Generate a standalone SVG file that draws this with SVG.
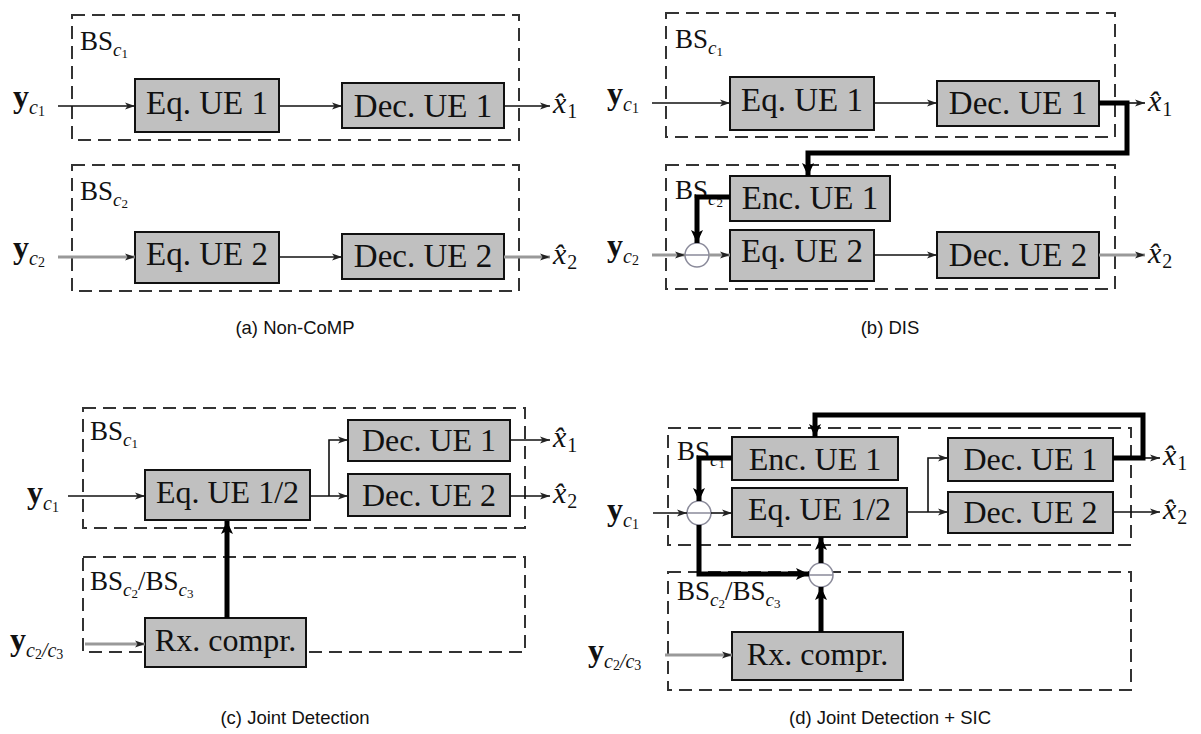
<svg xmlns="http://www.w3.org/2000/svg" width="1201" height="734" viewBox="0 0 1201 734">
<defs>
<style>
.bs{fill:none;stroke:#333;stroke-width:2;stroke-dasharray:13 7}
.bx{fill:#c0c0c0;stroke:#111;stroke-width:2}
.t{font-family:"Liberation Serif","Times New Roman",serif;font-size:33px;fill:#111;text-anchor:middle}
.t2{font-family:"Liberation Serif","Times New Roman",serif;font-size:32px;fill:#111;text-anchor:middle}
.m{font-family:"Liberation Serif","Times New Roman",serif;font-size:27px;fill:#111}
.y{font-family:"Liberation Serif","Times New Roman",serif;font-size:32px;font-weight:bold;fill:#111}
.xh{font-family:"Liberation Serif","Times New Roman",serif;font-size:30px;font-style:italic;fill:#111}
.it{font-style:italic;font-weight:normal}
.sb{font-style:normal;font-size:20px}
.cap{font-family:"Liberation Sans",Arial,sans-serif;font-size:18.5px;fill:#111;text-anchor:middle}
.ln{fill:none;stroke:#111;stroke-width:1.6}
.gl{fill:none;stroke:#999;stroke-width:3}
.tk{fill:none;stroke:#000;stroke-width:5;stroke-linejoin:miter}
.sub{fill:#fff;stroke:#8a8a9a;stroke-width:1.5}
</style>
<marker id="a" markerUnits="userSpaceOnUse" markerWidth="11" markerHeight="8" refX="10" refY="4" orient="auto"><path d="M0,0.5 L10,4 L0,7.5 L2.5,4z" fill="#222"/></marker>
<marker id="k" markerUnits="userSpaceOnUse" markerWidth="14" markerHeight="14" refX="13" refY="7" orient="auto"><path d="M0,1 L13,7 L0,13 L3,7z" fill="#000"/></marker>
</defs>
<rect width="1201" height="734" fill="#fff"/>

<!-- Panel (a) -->
<g id="a-bs1"><rect class="bs" x="72" y="15" width="447" height="125"/>
<text class="m" x="80" y="50">BS<tspan class="it" font-size="19" dy="6">c</tspan><tspan font-size="13" dy="2">1</tspan></text></g>
<g id="a-bs2"><rect class="bs" x="72" y="165" width="447" height="126"/>
<text class="m" x="80" y="200">BS<tspan class="it" font-size="19" dy="6">c</tspan><tspan font-size="13" dy="2">2</tspan></text></g>
<g id="a-eq1"><rect class="bx" x="135" y="79" width="144" height="53"/><text class="t" x="207" y="114">Eq. UE 1</text></g>
<g id="a-dec1"><rect class="bx" x="342" y="83" width="162" height="45"/><text class="t" x="423" y="117">Dec. UE 1</text></g>
<g id="a-eq2"><rect class="bx" x="135" y="232" width="144" height="51"/><text class="t" x="207" y="265">Eq. UE 2</text></g>
<g id="a-dec2"><rect class="bx" x="342" y="234" width="162" height="45"/><text class="t" x="423" y="267">Dec. UE 2</text></g>
<g id="a-labels">
<text class="y" x="13" y="107">y<tspan class="it" font-size="20" dy="7">c</tspan><tspan font-size="14" font-weight="normal" dy="2">1</tspan></text>
<text class="y" x="13" y="258">y<tspan class="it" font-size="20" dy="7">c</tspan><tspan font-size="14" font-weight="normal" dy="2">2</tspan></text>
<text class="xh" x="553" y="113">x̂<tspan class="sb" dx="1" dy="5">1</tspan></text>
<text class="xh" x="553" y="264">x̂<tspan class="sb" dx="1" dy="5">2</tspan></text>
<text class="cap" x="295" y="334">(a) Non-CoMP</text>
</g>
<g id="a-conn">
<line class="ln" x1="58" y1="106" x2="135" y2="106" marker-end="url(#a)"/>
<line class="ln" x1="279" y1="106" x2="342" y2="106" marker-end="url(#a)"/>
<line class="ln" x1="504" y1="106" x2="550" y2="106" marker-end="url(#a)"/>
<line class="gl" x1="58" y1="257" x2="135" y2="257" marker-end="url(#a)"/>
<line class="ln" x1="279" y1="257" x2="342" y2="257" marker-end="url(#a)"/>
<line class="gl" x1="504" y1="257" x2="550" y2="257" marker-end="url(#a)"/>
</g>

<!-- Panel (b) -->
<g id="b-bs1"><rect class="bs" x="666" y="13" width="449" height="124"/>
<text class="m" x="675" y="48">BS<tspan class="it" font-size="19" dy="6">c</tspan><tspan font-size="13" dy="2">1</tspan></text></g>
<g id="b-bs2"><rect class="bs" x="666" y="165" width="449" height="124"/>
<text class="m" x="675" y="199">BS<tspan class="it" font-size="19" dy="6">c</tspan><tspan font-size="13" dy="2">2</tspan></text></g>
<g id="b-eq1"><rect class="bx" x="730" y="77" width="144" height="53"/><text class="t" x="802" y="111">Eq. UE 1</text></g>
<g id="b-dec1"><rect class="bx" x="937" y="81" width="162" height="45"/><text class="t" x="1018" y="114">Dec. UE 1</text></g>
<g id="b-enc1"><rect class="bx" x="730" y="176" width="160" height="45"/><text class="t" x="810" y="209">Enc. UE 1</text></g>
<g id="b-eq2"><rect class="bx" x="730" y="230" width="144" height="51"/><text class="t" x="802" y="262">Eq. UE 2</text></g>
<g id="b-dec2"><rect class="bx" x="937" y="232" width="162" height="46"/><text class="t" x="1018" y="266">Dec. UE 2</text></g>
<g id="b-sub"><circle class="sub" cx="697" cy="255" r="12"/><line class="sub" x1="685" y1="255" x2="709" y2="255"/></g>
<g id="b-labels">
<text class="y" x="607" y="104">y<tspan class="it" font-size="20" dy="7">c</tspan><tspan font-size="14" font-weight="normal" dy="2">1</tspan></text>
<text class="y" x="607" y="256">y<tspan class="it" font-size="20" dy="7">c</tspan><tspan font-size="14" font-weight="normal" dy="2">2</tspan></text>
<text class="xh" x="1148" y="111">x̂<tspan class="sb" dx="1" dy="5">1</tspan></text>
<text class="xh" x="1148" y="263">x̂<tspan class="sb" dx="1" dy="5">2</tspan></text>
<text class="cap" x="890" y="334">(b) DIS</text>
</g>
<g id="b-conn">
<line class="ln" x1="652" y1="103" x2="730" y2="103" marker-end="url(#a)"/>
<line class="ln" x1="874" y1="103" x2="937" y2="103" marker-end="url(#a)"/>
<line class="ln" x1="1127" y1="103" x2="1145" y2="103" marker-end="url(#a)"/>
<path class="tk" d="M1099,103 H1127 V153 H808 V176" marker-end="url(#k)"/>
<path class="tk" d="M730,197 H697 V243" marker-end="url(#k)"/>
<line class="gl" x1="652" y1="255" x2="685" y2="255" marker-end="url(#a)"/>
<line class="gl" x1="709" y1="255" x2="730" y2="255" marker-end="url(#a)"/>
<line class="ln" x1="874" y1="255" x2="937" y2="255" marker-end="url(#a)"/>
<line class="gl" x1="1099" y1="255" x2="1145" y2="255" marker-end="url(#a)"/>
</g>

<!-- Panel (c) -->
<g id="c-bs1"><rect class="bs" x="83" y="408" width="442" height="120"/>
<text class="m" x="90" y="440">BS<tspan class="it" font-size="19" dy="6">c</tspan><tspan font-size="13" dy="2">1</tspan></text></g>
<g id="c-bs2"><rect class="bs" x="83" y="557" width="442" height="95"/>
<text class="m" x="90" y="590">BS<tspan class="it" font-size="19" dy="6">c</tspan><tspan font-size="13" dy="2">2</tspan><tspan dy="-8">/BS</tspan><tspan class="it" font-size="19" dy="6">c</tspan><tspan font-size="13" dy="2">3</tspan></text></g>
<g id="c-eq"><rect class="bx" x="145" y="470" width="165" height="50"/><text class="t2" x="227.5" y="503">Eq. UE 1/2</text></g>
<g id="c-dec1"><rect class="bx" x="348" y="420" width="162" height="41"/><text class="t2" x="429" y="451">Dec. UE 1</text></g>
<g id="c-dec2"><rect class="bx" x="348" y="474" width="162" height="42"/><text class="t2" x="429" y="506">Dec. UE 2</text></g>
<g id="c-rx"><rect class="bx" x="145" y="618" width="161" height="49"/><text class="t2" x="225.5" y="651">Rx. compr.</text></g>
<g id="c-labels">
<text class="y" x="27" y="503">y<tspan class="it" font-size="20" dy="7">c</tspan><tspan font-size="14" font-weight="normal" dy="2">1</tspan></text>
<text class="y" x="10" y="650">y<tspan class="it" font-size="20" dy="7">c</tspan><tspan font-size="14" font-weight="normal" dy="2">2</tspan><tspan class="it" font-size="20" dy="-2">/c</tspan><tspan font-size="14" font-weight="normal" dy="2">3</tspan></text>
<text class="xh" x="553" y="447">x̂<tspan class="sb" dx="1" dy="5">1</tspan></text>
<text class="xh" x="553" y="503">x̂<tspan class="sb" dx="1" dy="5">2</tspan></text>
<text class="cap" x="295" y="724">(c) Joint Detection</text>
</g>
<g id="c-conn">
<line class="ln" x1="68" y1="496" x2="145" y2="496" marker-end="url(#a)"/>
<line class="ln" x1="310" y1="496" x2="348" y2="496" marker-end="url(#a)"/>
<path class="ln" d="M329,496 V440 H348" marker-end="url(#a)"/>
<line class="ln" x1="510" y1="440" x2="550" y2="440" marker-end="url(#a)"/>
<line class="ln" x1="510" y1="496" x2="550" y2="496" marker-end="url(#a)"/>
<line class="gl" x1="85" y1="644" x2="145" y2="644" marker-end="url(#a)"/>
<line class="tk" x1="227" y1="618" x2="227" y2="521" stroke-width="4" marker-end="url(#k)"/>
</g>

<!-- Panel (d) -->
<g id="d-bs1"><rect class="bs" x="668" y="428" width="463" height="117"/>
<text class="m" x="677" y="460">BS<tspan class="it" font-size="19" dy="6">c</tspan><tspan font-size="13" dy="2">1</tspan></text></g>
<g id="d-bs2"><rect class="bs" x="668" y="572" width="463" height="118"/>
<text class="m" x="677" y="600">BS<tspan class="it" font-size="19" dy="6">c</tspan><tspan font-size="13" dy="2">2</tspan><tspan dy="-8">/BS</tspan><tspan class="it" font-size="19" dy="6">c</tspan><tspan font-size="13" dy="2">3</tspan></text></g>
<g id="d-enc"><rect class="bx" x="732" y="437" width="166" height="43"/><text class="t2" x="815" y="470">Enc. UE 1</text></g>
<g id="d-eq"><rect class="bx" x="732" y="488" width="175" height="49"/><text class="t2" x="819.5" y="520">Eq. UE 1/2</text></g>
<g id="d-dec1"><rect class="bx" x="948" y="438" width="165" height="43"/><text class="t2" x="1030.5" y="470">Dec. UE 1</text></g>
<g id="d-dec2"><rect class="bx" x="948" y="492" width="165" height="41"/><text class="t2" x="1030.5" y="523">Dec. UE 2</text></g>
<g id="d-rx"><rect class="bx" x="732" y="632" width="171" height="48"/><text class="t2" x="817.5" y="665">Rx. compr.</text></g>
<g id="d-sub1"><circle class="sub" cx="699" cy="513" r="12"/><line class="sub" x1="687" y1="513" x2="711" y2="513"/></g>
<g id="d-sub2"><circle class="sub" cx="821" cy="575" r="12"/><line class="sub" x1="809" y1="575" x2="833" y2="575"/></g>
<g id="d-labels">
<text class="y" x="607" y="520">y<tspan class="it" font-size="20" dy="7">c</tspan><tspan font-size="14" font-weight="normal" dy="2">1</tspan></text>
<text class="y" x="588" y="661">y<tspan class="it" font-size="20" dy="7">c</tspan><tspan font-size="14" font-weight="normal" dy="2">2</tspan><tspan class="it" font-size="20" dy="-2">/c</tspan><tspan font-size="14" font-weight="normal" dy="2">3</tspan></text>
<text class="xh" x="1163" y="465">x̂<tspan class="sb" dx="1" dy="5">1</tspan></text>
<text class="xh" x="1163" y="519">x̂<tspan class="sb" dx="1" dy="5">2</tspan></text>
<text class="cap" x="890" y="724">(d) Joint Detection + SIC</text>
</g>
<g id="d-conn">
<line class="ln" x1="653" y1="513" x2="687" y2="513" marker-end="url(#a)"/>
<line class="ln" x1="711" y1="513" x2="732" y2="513" marker-end="url(#a)"/>
<line class="ln" x1="907" y1="512" x2="948" y2="512" marker-end="url(#a)"/>
<path class="ln" d="M928,512 V458 H948" marker-end="url(#a)"/>
<line class="ln" x1="1143" y1="458" x2="1160" y2="458" marker-end="url(#a)"/>
<line class="ln" x1="1113" y1="512" x2="1160" y2="512" marker-end="url(#a)"/>
<path class="tk" d="M1113,458 H1143 V415 H815 V437" marker-end="url(#k)"/>
<path class="tk" d="M732,458 H699 V501" marker-end="url(#k)"/>
<path class="tk" d="M699,525 V574 H809" marker-end="url(#k)"/>
<line class="tk" x1="821" y1="563" x2="821" y2="537" marker-end="url(#k)"/>
<line class="tk" x1="821" y1="632" x2="821" y2="587" marker-end="url(#k)"/>
<line class="gl" x1="665" y1="655" x2="732" y2="655" marker-end="url(#a)"/>
</g>
</svg>
